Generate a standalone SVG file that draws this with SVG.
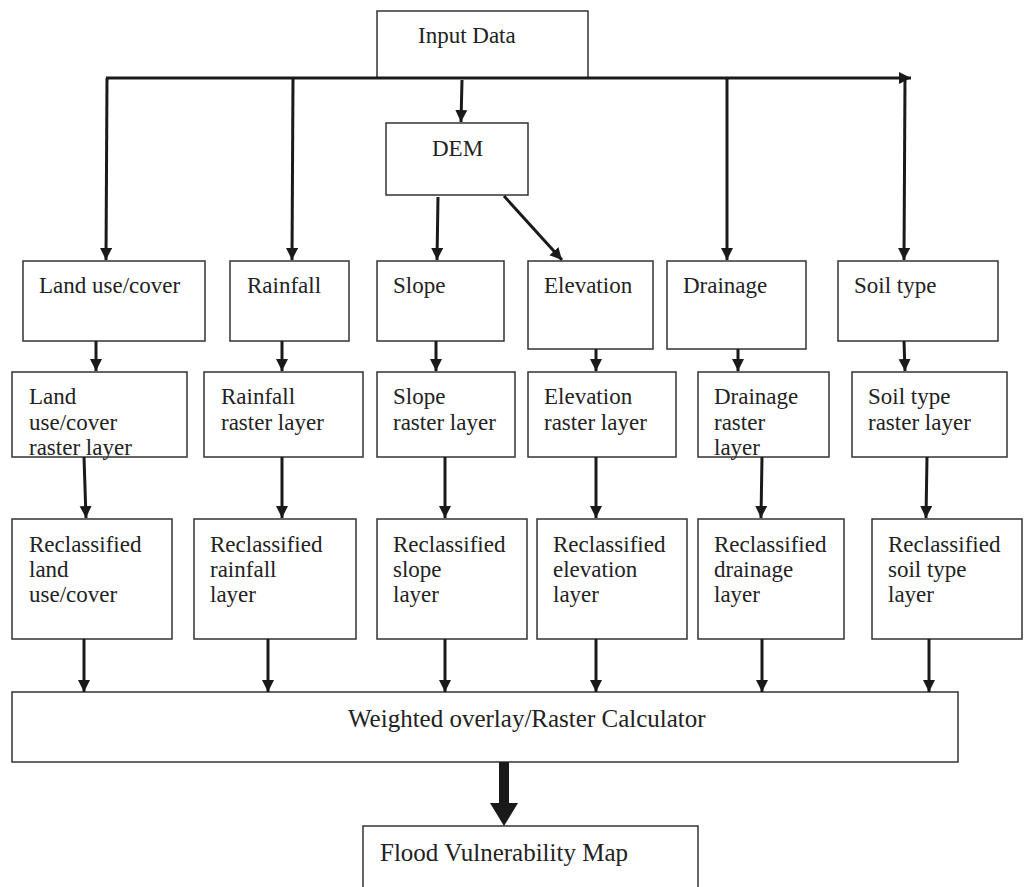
<svg xmlns="http://www.w3.org/2000/svg" width="1024" height="887" viewBox="0 0 1024 887">
<defs>
<style>
.box{fill:#fff;stroke:#333;stroke-width:1.5}
.t{font-family:"Liberation Serif","Times New Roman",serif;font-size:23px;fill:#222}
.big{font-size:25px}
.c{stroke:#1a1a1a;stroke-width:3;fill:none;marker-end:url(#ah)}
</style>
<marker id="ah" markerUnits="userSpaceOnUse" markerWidth="13" markerHeight="13" refX="12" refY="6" orient="auto">
<path d="M0,0 L12,6 L0,12 z" fill="#1a1a1a"/>
</marker>
</defs>
<rect width="1024" height="887" fill="#fff"/>

<g id="input"><rect class="box" x="377" y="11" width="211" height="67"/><text class="t" x="418" y="43">Input Data</text></g>
<g id="dem"><rect class="box" x="386" y="123" width="142" height="72"/><text class="t" x="432" y="156">DEM</text></g>

<g id="landuse"><rect class="box" x="23" y="261" width="182" height="80"/><text class="t" x="39" y="293">Land use/cover</text></g>
<g id="rainfall"><rect class="box" x="230" y="261" width="119" height="80"/><text class="t" x="247" y="293">Rainfall</text></g>
<g id="slope"><rect class="box" x="377" y="261" width="127" height="80"/><text class="t" x="393" y="293">Slope</text></g>
<g id="elevation"><rect class="box" x="528" y="261" width="125" height="88"/><text class="t" x="544" y="293">Elevation</text></g>
<g id="drainage"><rect class="box" x="667" y="261" width="139" height="88"/><text class="t" x="683" y="293">Drainage</text></g>
<g id="soil"><rect class="box" x="838" y="261" width="160" height="80"/><text class="t" x="854" y="293">Soil type</text></g>

<g id="landuse-raster"><rect class="box" x="12" y="372" width="175" height="85"/><text class="t" x="29" y="404">Land</text><text class="t" x="29" y="430">use/cover</text><text class="t" x="29" y="455">raster layer</text></g>
<g id="rainfall-raster"><rect class="box" x="204" y="372" width="159" height="85"/><text class="t" x="221" y="404">Rainfall</text><text class="t" x="221" y="430">raster layer</text></g>
<g id="slope-raster"><rect class="box" x="377" y="372" width="138" height="85"/><text class="t" x="393" y="404">Slope</text><text class="t" x="393" y="430">raster layer</text></g>
<g id="elevation-raster"><rect class="box" x="528" y="372" width="148" height="85"/><text class="t" x="544" y="404">Elevation</text><text class="t" x="544" y="430">raster layer</text></g>
<g id="drainage-raster"><rect class="box" x="698" y="372" width="131" height="85"/><text class="t" x="714" y="404">Drainage</text><text class="t" x="714" y="430">raster</text><text class="t" x="714" y="455">layer</text></g>
<g id="soil-raster"><rect class="box" x="852" y="372" width="155" height="85"/><text class="t" x="868" y="404">Soil type</text><text class="t" x="868" y="430">raster layer</text></g>

<g id="landuse-reclass"><rect class="box" x="12" y="519" width="160" height="120"/><text class="t" x="29" y="552">Reclassified</text><text class="t" x="29" y="577">land</text><text class="t" x="29" y="602">use/cover</text></g>
<g id="rainfall-reclass"><rect class="box" x="194" y="519" width="162" height="120"/><text class="t" x="210" y="552">Reclassified</text><text class="t" x="210" y="577">rainfall</text><text class="t" x="210" y="602">layer</text></g>
<g id="slope-reclass"><rect class="box" x="377" y="519" width="150" height="120"/><text class="t" x="393" y="552">Reclassified</text><text class="t" x="393" y="577">slope</text><text class="t" x="393" y="602">layer</text></g>
<g id="elevation-reclass"><rect class="box" x="537" y="519" width="150" height="120"/><text class="t" x="553" y="552">Reclassified</text><text class="t" x="553" y="577">elevation</text><text class="t" x="553" y="602">layer</text></g>
<g id="drainage-reclass"><rect class="box" x="698" y="519" width="146" height="120"/><text class="t" x="714" y="552">Reclassified</text><text class="t" x="714" y="577">drainage</text><text class="t" x="714" y="602">layer</text></g>
<g id="soil-reclass"><rect class="box" x="872" y="519" width="150" height="120"/><text class="t" x="888" y="552">Reclassified</text><text class="t" x="888" y="577">soil type</text><text class="t" x="888" y="602">layer</text></g>

<g id="weighted"><rect class="box" x="12" y="692" width="946" height="70"/><text class="t big" x="348" y="727">Weighted overlay/Raster Calculator</text></g>
<g id="flood"><rect class="box" x="363" y="826" width="335" height="80"/><text class="t big" x="380" y="861">Flood Vulnerability Map</text></g>

<g id="connectors">
<line class="c" x1="106" y1="78" x2="911" y2="78"/>
<line class="c" x1="107" y1="78" x2="106" y2="260"/>
<line class="c" x1="293" y1="78" x2="292" y2="260"/>
<line class="c" x1="462" y1="80" x2="461" y2="122"/>
<line class="c" x1="727" y1="78" x2="727" y2="260"/>
<line class="c" x1="905" y1="78" x2="904" y2="260"/>
<line class="c" x1="438" y1="197" x2="437" y2="260"/>
<line class="c" x1="504" y1="196" x2="562" y2="260"/>

<line class="c" x1="96" y1="341" x2="96" y2="371"/>
<line class="c" x1="282" y1="341" x2="282" y2="371"/>
<line class="c" x1="436" y1="341" x2="436" y2="371"/>
<line class="c" x1="596" y1="349" x2="596" y2="371"/>
<line class="c" x1="738" y1="349" x2="738" y2="371"/>
<line class="c" x1="904" y1="341" x2="905" y2="371"/>

<line class="c" x1="84" y1="457" x2="86" y2="518"/>
<line class="c" x1="282" y1="457" x2="282" y2="518"/>
<line class="c" x1="445" y1="457" x2="445" y2="518"/>
<line class="c" x1="596" y1="457" x2="596" y2="518"/>
<line class="c" x1="762" y1="457" x2="761" y2="518"/>
<line class="c" x1="927" y1="457" x2="926" y2="518"/>

<line class="c" x1="84" y1="639" x2="84" y2="692"/>
<line class="c" x1="268" y1="639" x2="268" y2="692"/>
<line class="c" x1="445" y1="639" x2="445" y2="692"/>
<line class="c" x1="596" y1="639" x2="596" y2="692"/>
<line class="c" x1="762" y1="639" x2="762" y2="692"/>
<line class="c" x1="929" y1="639" x2="929" y2="692"/>

<polygon points="499,762 509,762 509,803 518,803 504,826 490,803 499,803" fill="#1a1a1a"/>
</g>
</svg>
